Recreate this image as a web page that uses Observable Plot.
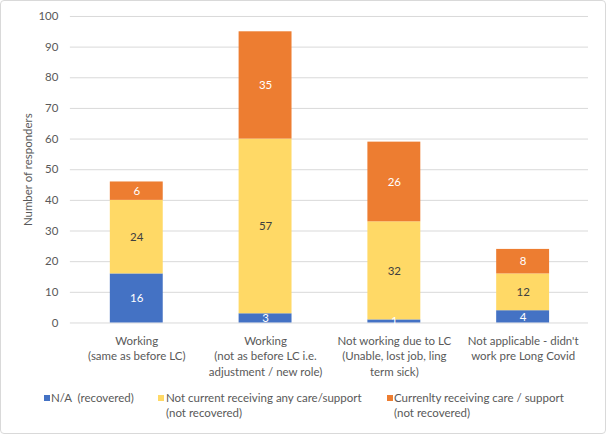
<!DOCTYPE html>
<html>
<head>
<meta charset="utf-8">
<script src="https://cdn.jsdelivr.net/npm/d3@7"></script>
<script src="https://cdn.jsdelivr.net/npm/@observablehq/plot@0.6"></script>
<style>
  html, body { margin: 0; padding: 0; background: #fff; }
  #frame { position: relative; width: 604px; height: 432px; border: 1px solid #d9d9d9; border-radius: 4px; overflow: hidden; font-family: Lato, "Liberation Sans", sans-serif; }
  #chart { position: absolute; left: -1px; top: -1px; }
  .leg { position: absolute; font-size: 11.5px; color: #595959; line-height: 15px; }
  .sw { position: absolute; width: 6px; height: 6px; }
</style>
</head>
<body>
<div id="frame">
  <div id="chart"></div>
  <div class="sw" style="left:43px;top:394px;background:#4472C4"></div>
  <div class="leg" style="left:50px;top:389px">N/A&nbsp;&nbsp;(recovered)</div>
  <div class="sw" style="left:157px;top:394px;background:#FFD966"></div>
  <div class="leg" style="left:165px;top:389px">Not current receiving any care/support<br>(not recovered)</div>
  <div class="sw" style="left:386px;top:394px;background:#ED7D31"></div>
  <div class="leg" style="left:393px;top:389px">Currenlty receiving care / support<br>(not recovered)</div>
</div>
<script>
const categories = [
  "Working\n(same as before LC)",
  "Working\n(not as before LC i.e.\nadjustment / new role)",
  "Not working due to LC\n(Unable, lost job, ling\nterm sick)",
  "Not applicable - didn't\nwork pre Long Covid"
];
const seriesNames = [
  "N/A  (recovered)",
  "Not current receiving any care/support (not recovered)",
  "Currenlty receiving care / support (not recovered)"
];
const recovered = [16, 3, 1, 4];
const notReceiving = [24, 57, 32, 12];
const receiving = [6, 35, 26, 8];
const colors = ["#4472C4", "#FFD966", "#ED7D31"];
const labelColors = ["#ffffff", "#404040", "#ffffff"];
const yTicks = [0, 10, 20, 30, 40, 50, 60, 70, 80, 90, 100];

const seriesValues = [recovered, notReceiving, receiving];
const data = [];
seriesValues.forEach((vals, si) => {
  vals.forEach((v, ci) => data.push({cat: categories[ci], series: seriesNames[si], si, value: v}));
});

const chart = Plot.plot({
  width: 606,
  height: 385,
  marginLeft: 70,
  marginRight: 17,
  marginTop: 16,
  marginBottom: 62,
  style: {fontFamily: "Lato, 'Liberation Sans', sans-serif", fontSize: "11.5px", color: "#595959", background: "transparent"},
  x: {domain: categories, paddingInner: 0.59, paddingOuter: 0.295, label: null},
  y: {domain: [0, 100], ticks: yTicks, label: null},
  color: {domain: seriesNames, range: colors},
  marks: [
    Plot.gridY(yTicks, {stroke: "#d9d9d9", strokeOpacity: 1, strokeWidth: 1}),
    Plot.barY(data, {x: "cat", y: "value", fill: "series", order: seriesNames}),
    Plot.text(data, Plot.stackY({x: "cat", y: "value", z: "series", order: seriesNames, text: d => String(d.value), fill: d => labelColors[d.si], fontSize: 11.5})),
    Plot.axisY(yTicks, {tickSize: 0, tickPadding: 12, fill: "#595959", fontSize: 11.5, label: null}),
    Plot.axisX({tickSize: 0, tickPadding: 11, fill: "#595959", fontSize: 11.5, lineHeight: 1.35, label: null}),
    Plot.text(["Number of responders"], {frameAnchor: "left", textAnchor: "middle", dx: -42, rotate: -90, fill: "#595959", fontSize: 11.5})
  ]
});
document.getElementById("chart").appendChild(chart);
</script>
</body>
</html>
